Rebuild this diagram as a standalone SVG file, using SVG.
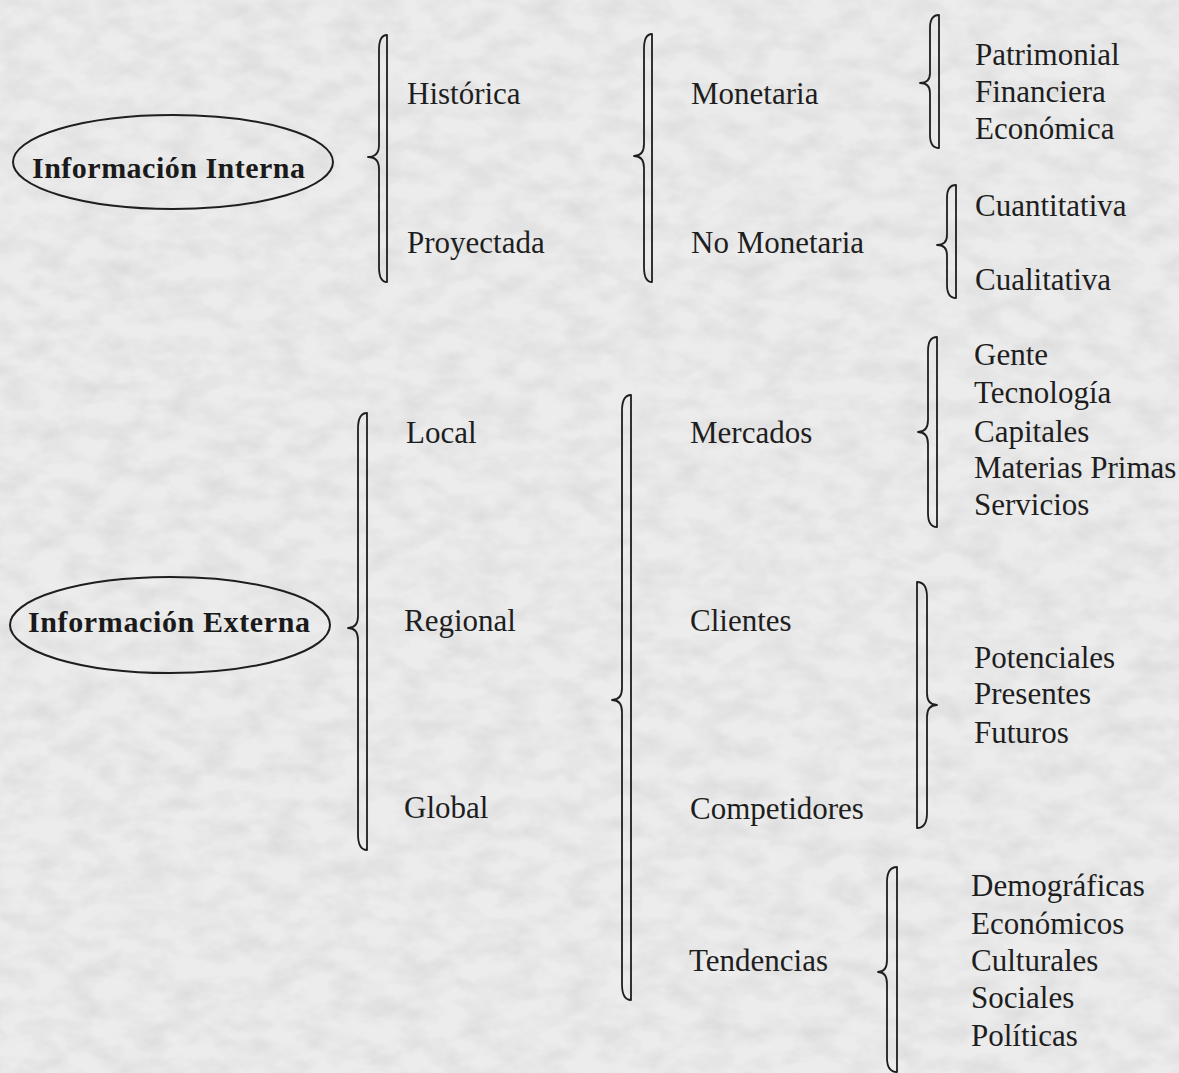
<svg xmlns="http://www.w3.org/2000/svg" width="1179" height="1073" viewBox="0 0 1179 1073">
<style>
.t{font-family:"Liberation Serif","Times New Roman",serif;font-size:31px;fill:#1e1e1e}
.b{font-family:"Liberation Serif","Times New Roman",serif;font-size:30px;font-weight:bold;fill:#1a1a1a}
.e{fill:none;stroke:#1e1e1e;stroke-width:2}
.br{fill:none;stroke:#1e1e1e;stroke-width:1.8;stroke-linejoin:round}
</style>
<defs>
<filter id="paper" x="0" y="0" width="100%" height="100%">
<feTurbulence type="fractalNoise" baseFrequency="0.03 0.05" numOctaves="3" seed="7"/>
<feColorMatrix type="matrix" values="0 0 0 0 0.45  0 0 0 0 0.45  0 0 0 0 0.45  0.7 0 0 0 -0.25"/>
</filter>
</defs>
<rect width="1179" height="1073" fill="#ececec"/>
<rect width="1179" height="1073" filter="url(#paper)" opacity="0.7"/>

<g id="connectors">
<path class="br" d="M387,35 L387,282 Q379,282 379,267 L379,169 Q379,157 368,157 Q379,157 379,145 L379,50 Q379,35 387,35 Z"/>
<path class="br" d="M652,34 L652,282 Q644,282 644,267 L644,168 Q644,156 634,156 Q644,156 644,144 L644,49 Q644,34 652,34 Z"/>
<path class="br" d="M939,15 L939,148 Q930,148 930,135 L930,93 Q930,83 920,83 Q930,83 930,73 L930,28 Q930,15 939,15 Z"/>
<path class="br" d="M956,185 L956,298 Q947,298 947,285 L947,255 Q947,245 937,245 Q947,245 947,235 L947,198 Q947,185 956,185 Z"/>
<path class="br" d="M367,413 L367,850 Q358,850 358,834 L358,640 Q358,628 348,628 Q358,628 358,616 L358,429 Q358,413 367,413 Z"/>
<path class="br" d="M631,395 L631,1000 Q622,1000 622,984 L622,712 Q622,700 612,700 Q622,700 622,688 L622,411 Q622,395 631,395 Z"/>
<path class="br" d="M937,337 L937,527 Q928,527 928,513 L928,444 Q928,432 918,432 Q928,432 928,420 L928,351 Q928,337 937,337 Z"/>
<path class="br" d="M917,582 L917,828 Q927,828 927,813 L927,717 Q927,705 937,705 Q927,705 927,693 L927,597 Q927,582 917,582 Z"/>
<path class="br" d="M897,867 L897,1072 Q887,1072 887,1058 L887,984 Q887,972 878,972 Q887,972 887,960 L887,882 Q887,867 897,867 Z"/>
</g>

<g id="n-interna">
<ellipse class="e" cx="173" cy="162" rx="160" ry="47"/>
<text class="b" x="32" y="178" textLength="273" lengthAdjust="spacing">Información Interna</text>
</g>
<g id="n-externa">
<ellipse class="e" cx="170" cy="625" rx="160" ry="48"/>
<text class="b" x="28" y="632" textLength="282" lengthAdjust="spacing">Información Externa</text>
</g>

<g id="n-historica"><text class="t" x="407" y="104">Histórica</text></g>
<g id="n-proyectada"><text class="t" x="407" y="253">Proyectada</text></g>
<g id="n-monetaria"><text class="t" x="691" y="104">Monetaria</text></g>
<g id="n-nomonetaria"><text class="t" x="691" y="253">No Monetaria</text></g>
<g id="n-monetaria-items">
<text class="t" x="975" y="65">Patrimonial</text>
<text class="t" x="975" y="102">Financiera</text>
<text class="t" x="975" y="139">Económica</text>
</g>
<g id="n-nomonetaria-items">
<text class="t" x="975" y="216">Cuantitativa</text>
<text class="t" x="975" y="290">Cualitativa</text>
</g>

<g id="n-local"><text class="t" x="406" y="443">Local</text></g>
<g id="n-regional"><text class="t" x="404" y="631">Regional</text></g>
<g id="n-global"><text class="t" x="404" y="818">Global</text></g>

<g id="n-mercados"><text class="t" x="690" y="443">Mercados</text></g>
<g id="n-clientes"><text class="t" x="690" y="631">Clientes</text></g>
<g id="n-competidores"><text class="t" x="690" y="819">Competidores</text></g>
<g id="n-tendencias"><text class="t" x="689" y="971">Tendencias</text></g>

<g id="n-mercados-items">
<text class="t" x="974" y="365">Gente</text>
<text class="t" x="974" y="403">Tecnología</text>
<text class="t" x="974" y="442">Capitales</text>
<text class="t" x="974" y="478">Materias Primas</text>
<text class="t" x="974" y="515">Servicios</text>
</g>
<g id="n-clientes-items">
<text class="t" x="974" y="668">Potenciales</text>
<text class="t" x="974" y="704">Presentes</text>
<text class="t" x="974" y="743">Futuros</text>
</g>
<g id="n-tendencias-items">
<text class="t" x="971" y="896">Demográficas</text>
<text class="t" x="971" y="934">Económicos</text>
<text class="t" x="971" y="971">Culturales</text>
<text class="t" x="971" y="1008">Sociales</text>
<text class="t" x="971" y="1046">Políticas</text>
</g>
</svg>
